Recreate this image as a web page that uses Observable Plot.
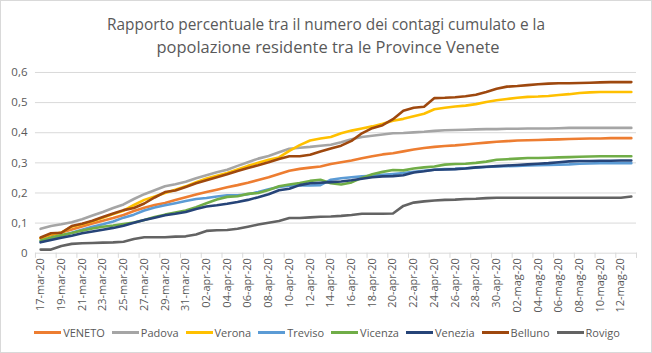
<!DOCTYPE html>
<html>
<head>
<meta charset="utf-8">
<script src="https://cdn.jsdelivr.net/npm/d3@7"></script>
<script src="https://cdn.jsdelivr.net/npm/@observablehq/plot@0.6"></script>
<style>
  html, body { margin: 0; padding: 0; background: #fff; }
  #wrap { position: relative; width: 652px; height: 353px; box-sizing: border-box; border: 1px solid #d9d9d9; background: #fff; font-family: "Open Sans", sans-serif; overflow: hidden; }
  #title { position: absolute; left: -1px; top: -1px; }
  #chart { position: absolute; left: -1px; top: 59px; }
  #legend { position: absolute; left: 0; width: 652px; top: 324px; display: flex; justify-content: center; align-items: center; gap: 7px; font-size: 11px; color: #595959; }
  .item { display: flex; align-items: center; gap: 2px; }
  .sw { display: inline-block; width: 27px; height: 3px; }
</style>
</head>
<body>
<div id="wrap">
  <svg id="title" width="652" height="64">
    <text x="326" y="30" text-anchor="middle" font-family="Open Sans" font-size="17" fill="#595959" textLength="438" lengthAdjust="spacingAndGlyphs">Rapporto percentuale tra il numero dei contagi cumulato e la</text>
    <text x="328" y="53" text-anchor="middle" font-family="Open Sans" font-size="17" fill="#595959" textLength="343" lengthAdjust="spacingAndGlyphs">popolazione residente tra le Province Venete</text>
  </svg>
  <div id="chart"></div>
  <div id="legend"></div>
</div>
<script>
const dates = ["17-mar-20","18-mar-20","19-mar-20","20-mar-20","21-mar-20","22-mar-20","23-mar-20","24-mar-20","25-mar-20","26-mar-20",
  "27-mar-20","28-mar-20","29-mar-20","30-mar-20","31-mar-20","01-apr-20","02-apr-20","03-apr-20","04-apr-20","05-apr-20",
  "06-apr-20","07-apr-20","08-apr-20","09-apr-20","10-apr-20","11-apr-20","12-apr-20","13-apr-20","14-apr-20","15-apr-20",
  "16-apr-20","17-apr-20","18-apr-20","19-apr-20","20-apr-20","21-apr-20","22-apr-20","23-apr-20","24-apr-20","25-apr-20",
  "26-apr-20","27-apr-20","28-apr-20","29-apr-20","30-apr-20","01-mag-20","02-mag-20","03-mag-20","04-mag-20","05-mag-20",
  "06-mag-20","07-mag-20","08-mag-20","09-mag-20","10-mag-20","11-mag-20","12-mag-20","13-mag-20"];

const seriesNames = ["VENETO","Padova","Verona","Treviso","Vicenza","Venezia","Belluno","Rovigo"];
const seriesColors = ["#ED7D31","#A5A5A5","#FFC000","#5B9BD5","#70AD47","#264478","#9E480E","#636363"];

const veneto = [0.050,0.060,0.069,0.079,0.089,0.099,0.108,0.117,0.127,0.140,0.151,0.160,0.167,0.177,0.186,0.195,0.203,0.211,0.219,0.226,
  0.234,0.243,0.252,0.263,0.274,0.280,0.284,0.288,0.296,0.302,0.308,0.315,0.322,0.328,0.332,0.338,0.344,0.349,0.353,0.356,
  0.358,0.361,0.364,0.367,0.370,0.372,0.374,0.375,0.376,0.377,0.378,0.379,0.380,0.381,0.381,0.382,0.382,0.382];
const padova = [0.081,0.090,0.096,0.103,0.113,0.125,0.137,0.150,0.162,0.180,0.196,0.209,0.222,0.229,0.237,0.249,0.259,0.269,0.277,0.290,
  0.302,0.314,0.323,0.335,0.347,0.350,0.353,0.357,0.360,0.368,0.378,0.386,0.390,0.394,0.398,0.399,0.401,0.403,0.406,0.408,
  0.409,0.410,0.411,0.412,0.412,0.413,0.413,0.414,0.414,0.414,0.415,0.416,0.416,0.416,0.416,0.416,0.416,0.416];
const verona = [0.050,0.064,0.068,0.088,0.096,0.106,0.118,0.130,0.141,0.160,0.177,0.188,0.200,0.211,0.222,0.236,0.248,0.257,0.266,0.278,
  0.290,0.300,0.310,0.318,0.340,0.359,0.374,0.381,0.386,0.398,0.407,0.414,0.421,0.430,0.440,0.446,0.455,0.463,0.478,0.483,
  0.487,0.490,0.495,0.502,0.508,0.512,0.516,0.519,0.520,0.522,0.525,0.528,0.532,0.534,0.535,0.535,0.535,0.535];
const treviso = [0.038,0.047,0.058,0.068,0.078,0.088,0.096,0.105,0.118,0.128,0.142,0.152,0.159,0.166,0.173,0.180,0.183,0.188,0.192,0.192,
  0.196,0.203,0.212,0.220,0.224,0.226,0.225,0.226,0.244,0.249,0.252,0.255,0.257,0.260,0.263,0.266,0.270,0.274,0.277,0.279,
  0.280,0.282,0.284,0.286,0.288,0.289,0.290,0.291,0.292,0.293,0.294,0.295,0.297,0.298,0.299,0.299,0.299,0.299];
const vicenza = [0.042,0.052,0.060,0.067,0.075,0.082,0.088,0.092,0.097,0.102,0.110,0.120,0.128,0.135,0.142,0.153,0.166,0.178,0.187,0.189,
  0.197,0.200,0.210,0.222,0.228,0.233,0.240,0.244,0.232,0.228,0.235,0.250,0.262,0.270,0.276,0.275,0.281,0.285,0.288,0.294,
  0.296,0.297,0.300,0.304,0.310,0.312,0.314,0.316,0.316,0.317,0.318,0.319,0.320,0.321,0.322,0.322,0.322,0.322];
const venezia = [0.036,0.044,0.051,0.058,0.066,0.072,0.078,0.084,0.091,0.101,0.110,0.118,0.126,0.131,0.137,0.147,0.155,0.159,0.164,0.170,
  0.177,0.186,0.196,0.209,0.214,0.226,0.232,0.234,0.236,0.238,0.242,0.247,0.252,0.255,0.256,0.259,0.268,0.272,0.277,0.278,
  0.279,0.281,0.285,0.287,0.289,0.291,0.293,0.295,0.297,0.299,0.302,0.305,0.306,0.306,0.307,0.307,0.308,0.308];
const belluno = [0.052,0.066,0.068,0.090,0.098,0.108,0.120,0.132,0.143,0.150,0.165,0.185,0.203,0.208,0.220,0.232,0.242,0.252,0.262,0.273,
  0.283,0.292,0.302,0.313,0.322,0.322,0.327,0.338,0.348,0.357,0.373,0.398,0.415,0.425,0.445,0.473,0.483,0.486,0.515,0.516,
  0.518,0.521,0.526,0.535,0.546,0.553,0.555,0.558,0.561,0.563,0.564,0.564,0.565,0.566,0.567,0.568,0.568,0.568];
const rovigo = [0.012,0.012,0.024,0.031,0.033,0.034,0.035,0.036,0.038,0.047,0.053,0.053,0.053,0.055,0.056,0.062,0.074,0.076,0.077,0.081,
  0.088,0.095,0.101,0.107,0.117,0.117,0.119,0.121,0.122,0.124,0.127,0.131,0.131,0.131,0.132,0.157,0.168,0.172,0.175,0.177,
  0.178,0.180,0.181,0.183,0.184,0.184,0.184,0.184,0.184,0.184,0.184,0.184,0.184,0.184,0.184,0.184,0.184,0.188];

const yTicks = [0, 0.1, 0.2, 0.3, 0.4, 0.5, 0.6];

const seriesValues = [veneto, padova, verona, treviso, vicenza, venezia, belluno, rovigo];
const rows = [];
seriesNames.forEach((name, s) => {
  seriesValues[s].forEach((v, i) => rows.push({series: name, i, v}));
});
const labelIdx = dates.map((d, i) => i).filter(i => i % 2 === 0);
const boundaries = d3.range(-0.5, dates.length, 2).concat([dates.length - 0.5]);

const chart = Plot.plot({
  width: 652,
  height: 262,
  marginLeft: 35,
  marginRight: 15,
  marginTop: 12,
  marginBottom: 69,
  style: {fontFamily: "Open Sans, sans-serif", fontSize: "11px", color: "#595959", background: "transparent"},
  x: {type: "linear", domain: [-0.5, dates.length - 0.5]},
  y: {domain: [0, 0.6]},
  color: {domain: seriesNames, range: seriesColors},
  marks: [
    Plot.ruleY(yTicks.slice(1), {stroke: "#d9d9d9", strokeWidth: 1}),
    Plot.ruleY([0], {stroke: "#d9d9d9", strokeWidth: 1}),
    Plot.ruleX(boundaries, {y1: 0, y2: -0.017, stroke: "#d9d9d9"}),
    Plot.axisY({ticks: yTicks, tickSize: 0, tickPadding: 8, fontSize: 11.5, label: null,
      tickFormat: d => d === 0 ? "0" : d3.format(".1f")(d).replace(".", ",")}),
    Plot.axisX({ticks: labelIdx, tickSize: 0, tickPadding: 5, tickRotate: -90, label: null,
      tickFormat: i => dates[i]}),
    Plot.line(rows, {x: "i", y: "v", z: "series", stroke: "series", strokeWidth: 2.6, strokeLinejoin: "round", strokeLinecap: "round"})
  ]
});
document.getElementById("chart").appendChild(chart);

const legend = document.getElementById("legend");
seriesNames.forEach((name, s) => {
  const item = document.createElement("div");
  item.className = "item";
  const sw = document.createElement("span");
  sw.className = "sw";
  sw.style.background = seriesColors[s];
  const t = document.createElement("span");
  t.textContent = name;
  item.appendChild(sw);
  item.appendChild(t);
  legend.appendChild(item);
});
</script>
</body>
</html>
